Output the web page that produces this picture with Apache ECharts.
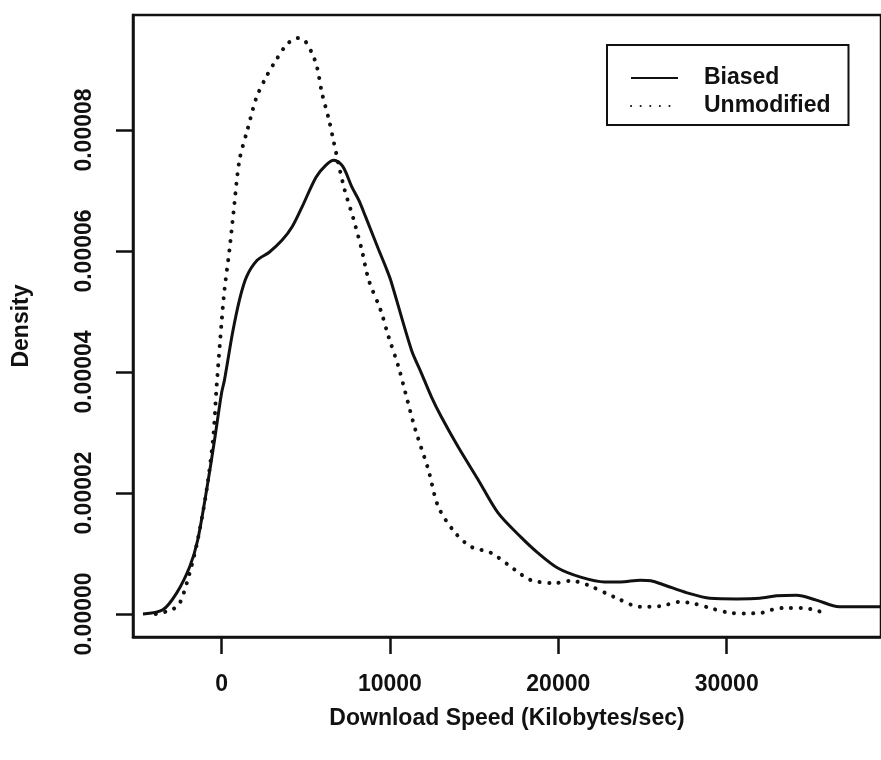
<!DOCTYPE html>
<html>
<head>
<meta charset="utf-8">
<script src="https://cdn.jsdelivr.net/npm/echarts@6/dist/echarts.min.js"></script>
<style>
html,body{margin:0;padding:0;background:#fff;}
#density_chart{width:881px;height:760px;}
</style>
</head>
<body>
<div id="density_chart"></div>
<script>
// values
var seriesNames = ['Biased', 'Unmodified'];
var xTicks = [0, 10000, 20000, 30000];
var yTicks = [0, 0.00002, 0.00004, 0.00006, 0.00008];

var biasedX = [-4666, -3485, -2658, -1890, -1418, -886, -413, 0, 177, 650, 1063, 1477, 2127, 2835, 3603, 4194, 4785,
	5612, 6200, 6675, 7200, 7738, 8152, 8565, 9333, 9746, 10042, 11283, 11811, 12464, 13051, 14056, 15240, 16421,
	17780, 18785, 19965, 21324, 22742, 23687, 24869, 25500, 26287, 27645, 29004, 30600, 31957, 32961, 34143,
	35325, 36683, 39200];
var biasedY = [0, 0.0000007, 0.0000035, 0.0000078, 0.0000122, 0.0000205, 0.0000288, 0.0000365, 0.0000387, 0.0000464,
	0.0000519, 0.0000557, 0.0000585, 0.0000598, 0.0000618, 0.000064, 0.0000673, 0.0000722, 0.0000742, 0.000075,
	0.000074, 0.0000706, 0.0000684, 0.0000656, 0.0000602, 0.0000574, 0.0000552, 0.0000436, 0.0000402, 0.0000359,
	0.0000326, 0.0000276, 0.0000222, 0.0000167, 0.0000127, 0.0000101, 0.0000076, 0.0000061, 0.0000053, 0.0000053,
	0.0000056, 0.0000055, 0.0000048, 0.0000035, 0.0000026, 0.0000025, 0.0000026, 0.000003, 0.0000031, 0.0000023,
	0.0000012, 0.0000012];

var unmodX = [-3900, -2954, -2481, -1890, -1418, -886, -500, -295, 0, 177, 473, 709, 1063, 1536, 2067, 2658, 3249,
	3898, 4500, 4903, 5375, 5671, 5966, 6380, 6675, 7266, 7856, 8329, 8742, 9451, 9924, 10515, 10928, 11519, 12287,
	12877, 13882, 14827, 16008, 17426, 18371, 19789, 20735, 21738, 23333, 24869, 26050, 27232, 27940, 29004, 30186,
	31100, 32075, 32666, 33375, 34556, 35148, 35797];
var unmodY = [0, 0.0000007, 0.0000018, 0.0000068, 0.0000122, 0.0000205, 0.000029, 0.0000375, 0.0000481, 0.0000536,
	0.0000602, 0.0000663, 0.000075, 0.00008, 0.0000853, 0.0000888, 0.0000916, 0.0000942, 0.0000952, 0.0000949,
	0.0000927, 0.0000904, 0.0000861, 0.0000817, 0.0000779, 0.0000706, 0.0000651, 0.0000602, 0.0000552, 0.0000502,
	0.0000458, 0.0000408, 0.0000365, 0.0000304, 0.0000238, 0.0000177, 0.0000134, 0.0000111, 0.0000101, 0.0000073,
	0.0000056, 0.0000051, 0.0000055, 0.0000048, 0.0000028, 0.0000012, 0.0000013, 0.000002, 0.0000018, 0.000001,
	0.0000002, 0.0000001, 0.0000002, 0.0000007, 0.000001, 0.000001, 0.0000007, 0.0000002];

function pairs(xs, ys){
	var out = [];
	for(var i=0;i<xs.length;i++){
		out.push([xs[i], ys[i]]);
	}
	return out;
}

var font = 'Liberation Sans';
var myChart = echarts.init(document.getElementById('density_chart'), null, {renderer: 'canvas'});

var option = {
	backgroundColor: '#fff',
	animation: false,
	color: ['#111', '#111'],
	grid: {
		left: 133, top: 15, right: -4, bottom: 123,
		show: true,
		borderColor: '#111',
		borderWidth: 2.5,
		containLabel: false
	},
	legend: {
		orient: 'vertical',
		left: 607,
		top: 45,
		data: seriesNames,
		itemWidth: 47,
		itemHeight: 14,
		itemGap: 4,
		padding: [21, 18, 7, 23],
		borderColor: '#111',
		borderWidth: 2,
		itemStyle: {opacity: 0},
		textStyle: {
			fontFamily: font,
			fontWeight: 'bold',
			fontSize: 23,
			lineHeight: 24,
			color: '#111',
			padding: [0, 0, 0, 21]
		}
	},
	xAxis: {
		type: 'value',
		min: -5257,
		max: 39163,
		name: 'Download Speed (Kilobytes/sec)',
		nameLocation: 'middle',
		nameGap: 70,
		nameTextStyle: {fontFamily: font, fontWeight: 'bold', fontSize: 23, color: '#111'},
		axisLine: {show: true, onZero: false, lineStyle: {color: '#111', width: 2.5}},
		axisTick: {show: true, inside: false, length: 17, customValues: xTicks, lineStyle: {color: '#111', width: 2.5}},
		axisLabel: {
			customValues: xTicks,
			margin: 36,
			fontFamily: font, fontWeight: 'bold', fontSize: 23, color: '#111',
			formatter: function(v){ return String(v); }
		},
		splitLine: {show: false}
	},
	yAxis: {
		type: 'value',
		min: -0.0000038,
		max: 0.00009901,
		name: 'Density',
		nameLocation: 'middle',
		nameGap: 100,
		nameTextStyle: {fontFamily: font, fontWeight: 'bold', fontSize: 23, color: '#111'},
		axisLine: {show: true, onZero: false, lineStyle: {color: '#111', width: 2.5}},
		axisTick: {show: true, inside: false, length: 17, customValues: yTicks, lineStyle: {color: '#111', width: 2.5}},
		axisLabel: {
			customValues: yTicks,
			rotate: 90,
			margin: 37,
			fontFamily: font, fontWeight: 'bold', fontSize: 23, color: '#111',
			formatter: function(v){ return v.toFixed(5); }
		},
		splitLine: {show: false}
	},
	series: [
		{
			name: seriesNames[0],
			type: 'line',
			data: pairs(biasedX, biasedY),
			smooth: 0.3,
			symbol: 'none',
			itemStyle: {color: '#111'},
			lineStyle: {color: '#111', width: 3}
		},
		{
			name: seriesNames[1],
			type: 'line',
			data: pairs(unmodX, unmodY),
			smooth: 0.3,
			symbol: 'none',
			itemStyle: {color: '#111'},
			lineStyle: {color: '#111', width: 4, type: [0.1, 9.5], cap: 'round'}
		}
	]
};
myChart.setOption(option);
</script>
</body>
</html>
